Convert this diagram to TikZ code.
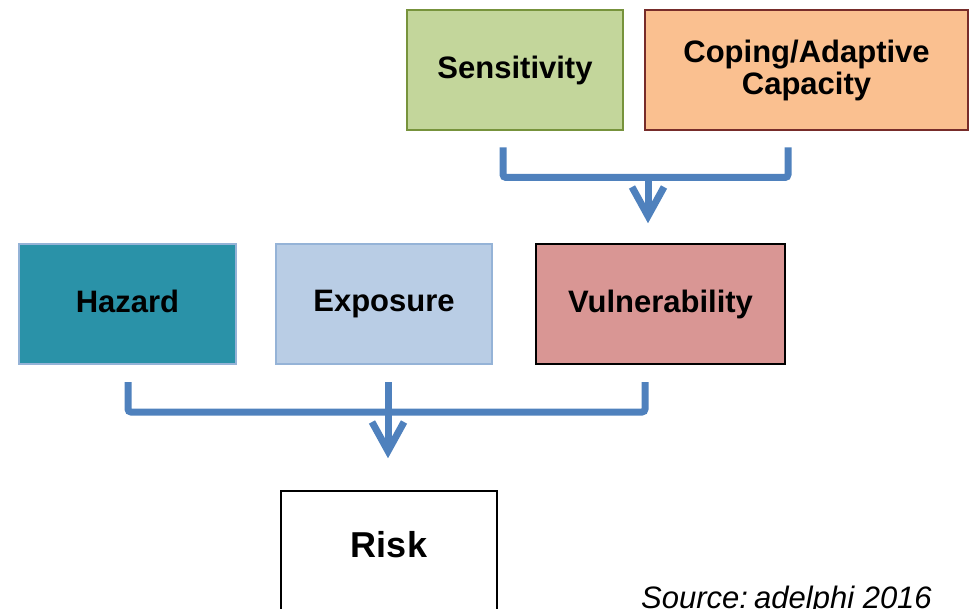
\documentclass[tikz,border=0pt]{standalone}
\usepackage{fontspec}
\setmainfont{Liberation Sans}
\usetikzlibrary{calc}
\definecolor{arrowblue}{HTML}{4F81BD}
\definecolor{sensfill}{HTML}{C3D69B}
\definecolor{sensdraw}{HTML}{77933C}
\definecolor{copefill}{HTML}{FAC090}
\definecolor{copedraw}{HTML}{772C2A}
\definecolor{hazfill}{HTML}{2A92A8}
\definecolor{lightdraw}{HTML}{95B3D7}
\definecolor{expfill}{HTML}{B9CDE5}
\definecolor{vulfill}{HTML}{D99694}
\tikzset{
  box/.style={draw, line width=2pt, inner sep=0pt, align=center,
    font=\bfseries\fontsize{31}{32}\selectfont},
  bracket/.style={draw=arrowblue, line width=7pt, rounded corners=3pt},
  chevron/.style={draw=arrowblue, line width=7pt, line join=miter},
}
\begin{document}
\begin{tikzpicture}[x=1pt,y=-1pt]
\useasboundingbox (0,0) rectangle (971,609);
% top row
\node[box, fill=sensfill, draw=sensdraw, minimum width=216pt, minimum height=120pt] (sens) at (515,70.5) {Sensitivity};
\node[box, fill=copefill, draw=copedraw, minimum width=323pt, minimum height=120pt] (cope) at (806.5,70.5) {Coping/Adaptive\\Capacity};
% middle row
\node[box, fill=hazfill, draw=lightdraw, minimum width=217pt, minimum height=120pt] (haz) at (127.5,304) {Hazard\vphantom{p}};
\node[box, fill=expfill, draw=lightdraw, minimum width=216pt, minimum height=120pt] (exp) at (384,304) {Exposure};
\node[box, fill=vulfill, draw=black, minimum width=249pt, minimum height=120pt] (vul) at (660.5,304) {Vulnerability};
% risk
\node[box, fill=white, draw=black, minimum width=216pt, minimum height=160pt, anchor=north] (risk) at (389,490) {};
\node[font=\bfseries\fontsize{36}{38}\selectfont, inner sep=0pt] (risktext) at (389,545) {Risk};
% source
\node[font=\itshape\fontsize{31}{32}\selectfont, inner sep=0pt, anchor=base west] (src) at (641,608) {Source:\hspace{0.2em}adelphi 2016};

% top bracket
\coordinate (t1) at ($(sens.south)+(-12,16)$);
\coordinate (t2) at ($(cope.south)+(-18.5,16)$);
\coordinate (tmid) at ($(t1)!0.5!(t2)+(0,30)$);
\coordinate (ttip) at (648,216);
\draw[bracket] (t1) -- ++(0,30) -| (t2);
\draw[chevron] (ttip |- tmid) -- (ttip);
\draw[chevron] ($(ttip)+(-16,-29)$) -- (ttip) -- ($(ttip)+(16,-29)$);

% bottom bracket
\coordinate (b1) at ($(haz.south)+(0.5,17)$);
\coordinate (b2) at ($(vul.south)+(-15.5,17)$);
\coordinate (bmid) at ($(exp.south)+(4,17)$);
\coordinate (btip) at (388,451);
\draw[bracket] (b1) -- ++(0,30) -| (b2);
\draw[chevron] (bmid) -- (btip);
\draw[chevron] ($(btip)+(-16,-29)$) -- (btip) -- ($(btip)+(16,-29)$);
\end{tikzpicture}
\end{document}
